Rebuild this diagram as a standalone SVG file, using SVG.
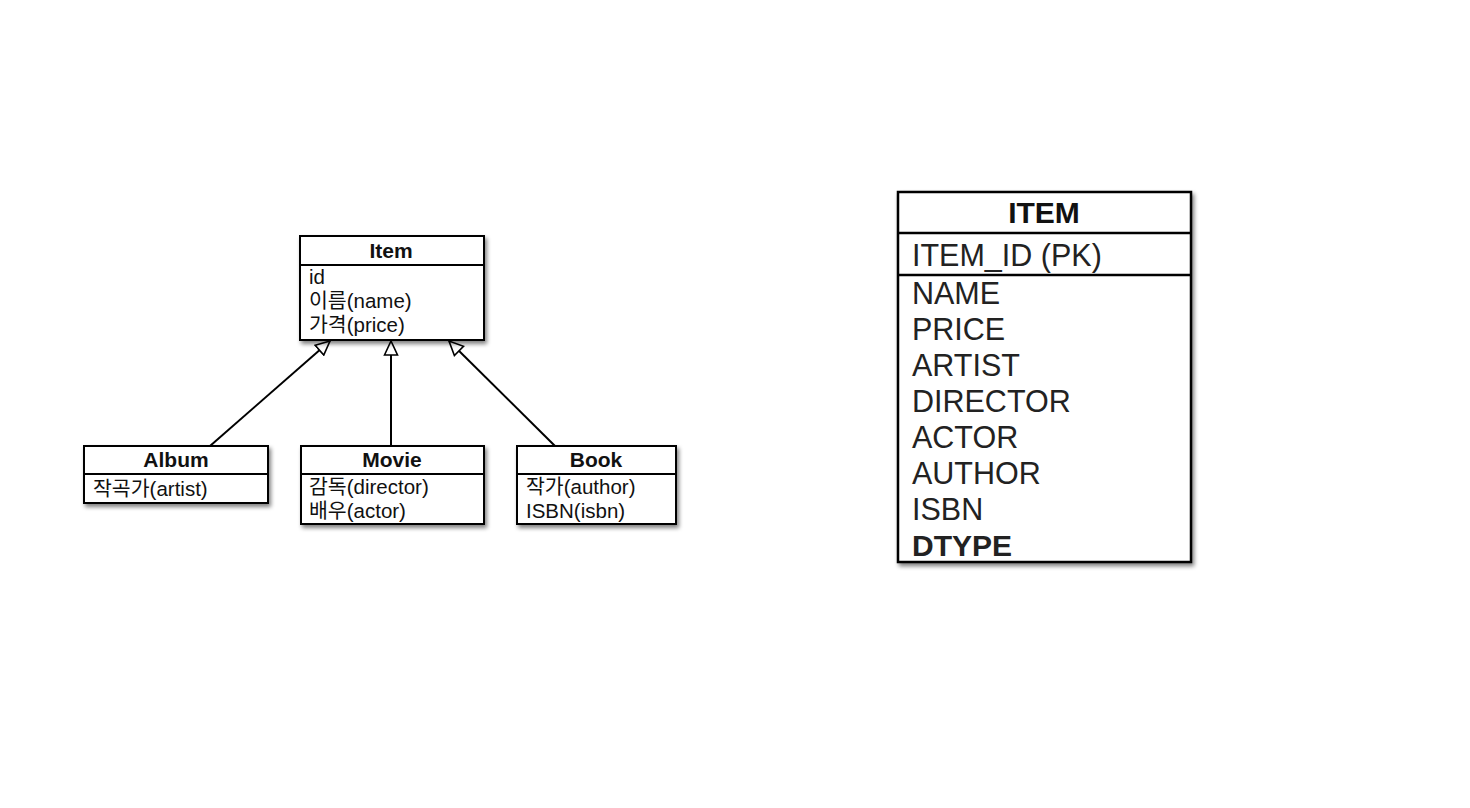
<svg xmlns="http://www.w3.org/2000/svg" width="1470" height="808" viewBox="0 0 1470 808">
<defs>
<filter id="sh" x="-10%" y="-10%" width="130%" height="130%">
<feGaussianBlur in="SourceAlpha" stdDeviation="2"/>
<feOffset dx="2" dy="3" result="b"/>
<feComponentTransfer><feFuncA type="linear" slope="0.5"/></feComponentTransfer>
<feMerge><feMergeNode/><feMergeNode in="SourceGraphic"/></feMerge>
</filter>
<marker id="tri" viewBox="0 0 16 16" refX="15" refY="8" markerWidth="16" markerHeight="16" markerUnits="userSpaceOnUse" orient="auto">
<path d="M1,1.5 L15,8 L1,14.5 Z" fill="#fff" stroke="#000" stroke-width="1.6"/>
</marker>
</defs>
<style>
.box{fill:#fff;stroke:#000;stroke-width:2}
.ln{stroke:#000;stroke-width:2}
.t{font-family:"Liberation Sans","Noto Sans CJK KR",sans-serif;fill:#111}
.h{font-size:21px;font-weight:bold;text-anchor:middle}
.a{font-size:20.5px}
.H{font-size:30px;font-weight:bold;text-anchor:middle}
.A{font-size:30.5px;fill:#222}
.con{stroke:#000;stroke-width:2;fill:none;marker-end:url(#tri)}
</style>
<rect width="1470" height="808" fill="#fff"/>
<g id="connectors">
<line class="con" x1="210" y1="446" x2="330" y2="341"/>
<line class="con" x1="391" y1="446" x2="391" y2="341"/>
<line class="con" x1="555" y1="446" x2="449" y2="341"/>
</g>
<g id="item">
<rect class="box" x="300" y="236" width="184" height="104" filter="url(#sh)"/>
<line class="ln" x1="300" y1="265" x2="484" y2="265"/>
<text class="t h" x="391" y="258">Item</text>
<text class="t a" x="309" y="284">id</text>
<text class="t a" x="309" y="308">이름(name)</text>
<text class="t a" x="309" y="332">가격(price)</text>
</g>
<g id="album">
<rect class="box" x="84" y="446" width="184" height="57" filter="url(#sh)"/>
<line class="ln" x1="84" y1="474" x2="268" y2="474"/>
<text class="t h" x="176" y="467">Album</text>
<text class="t a" x="93" y="496">작곡가(artist)</text>
</g>
<g id="movie">
<rect class="box" x="301" y="446" width="183" height="78" filter="url(#sh)"/>
<line class="ln" x1="301" y1="474" x2="484" y2="474"/>
<text class="t h" x="392" y="467">Movie</text>
<text class="t a" x="309" y="494">감독(director)</text>
<text class="t a" x="309" y="518">배우(actor)</text>
</g>
<g id="book">
<rect class="box" x="517" y="446" width="159" height="78" filter="url(#sh)"/>
<line class="ln" x1="517" y1="474" x2="676" y2="474"/>
<text class="t h" x="596" y="467">Book</text>
<text class="t a" x="526" y="494">작가(author)</text>
<text class="t a" x="526" y="518">ISBN(isbn)</text>
</g>
<g id="item-table">
<rect class="box" x="898" y="192" width="293" height="370" filter="url(#sh)" style="stroke-width:2.5"/>
<line class="ln" x1="898" y1="233" x2="1191" y2="233" style="stroke-width:2.5"/>
<line class="ln" x1="898" y1="275" x2="1191" y2="275" style="stroke-width:2.5"/>
<text class="t H" x="1044" y="223">ITEM</text>
<text class="t A" x="912" y="266">ITEM_ID (PK)</text>
<text class="t A" x="912" y="304">NAME</text>
<text class="t A" x="912" y="340">PRICE</text>
<text class="t A" x="912" y="376">ARTIST</text>
<text class="t A" x="912" y="412">DIRECTOR</text>
<text class="t A" x="912" y="448">ACTOR</text>
<text class="t A" x="912" y="484">AUTHOR</text>
<text class="t A" x="912" y="520">ISBN</text>
<text class="t A" x="912" y="556" style="font-weight:bold;font-size:30px">DTYPE</text>
</g>
</svg>
